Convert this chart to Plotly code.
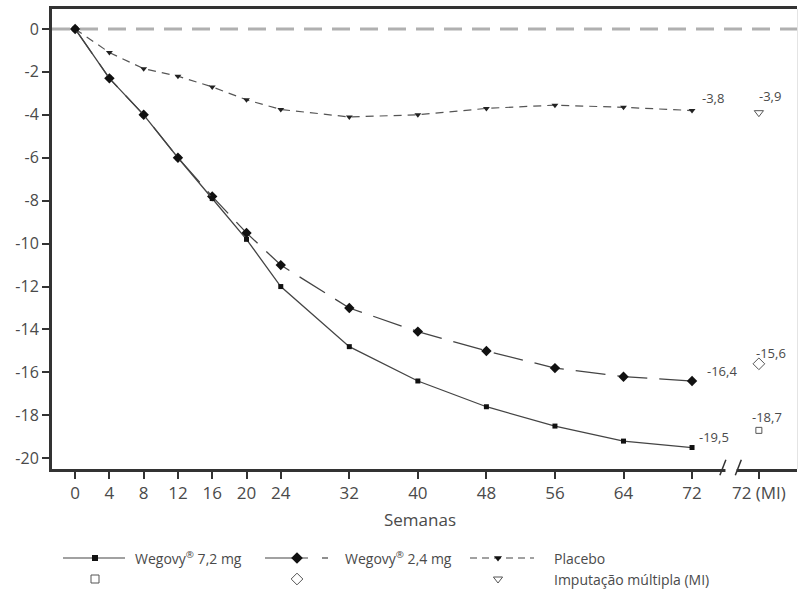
import plotly.graph_objects as go

weeks = [0, 4, 8, 12, 16, 20, 24, 32, 40, 48, 56, 64, 72]
wegovy_72 = [0, -2.3, -4.0, -6.0, -7.9, -9.8, -12.0, -14.8, -16.4, -17.6, -18.5, -19.2, -19.5]
wegovy_24 = [0, -2.3, -4.0, -6.0, -7.8, -9.5, -11.0, -13.0, -14.1, -15.0, -15.8, -16.2, -16.4]
placebo = [0, -1.1, -1.85, -2.2, -2.7, -3.3, -3.75, -4.1, -4.0, -3.7, -3.55, -3.65, -3.8]

mi_week_pos = 79.8  # plotting position of the "72 (MI)" category
mi_72 = -18.7
mi_24 = -15.6
mi_placebo = -3.9

xtick_vals = weeks + [mi_week_pos]
xtick_text = [str(w) for w in weeks] + ["72 (MI)"]
ytick_vals = list(range(0, -21, -2))
ytick_text = [str(v) for v in ytick_vals]

W, H = 798, 591
FONT = "Open Sans"
DARK = "#333333"
TXT = "#4a4a4a"

fig = go.Figure()

# zero reference line
fig.add_shape(type="line", xref="x domain", yref="y", x0=0, x1=1, y0=0, y1=0,
              line=dict(color="#b0b0b0", width=3, dash="18px,10px"), layer="below")

fig.add_trace(go.Scatter(x=weeks, y=placebo, mode="lines+markers",
                         line=dict(color="#555555", width=1.2, dash="8px,6px"),
                         marker=dict(symbol="triangle-down", size=6, color="#222222"),
                         showlegend=False))
fig.add_trace(go.Scatter(x=weeks, y=wegovy_24, mode="lines+markers",
                         line=dict(color="#444444", width=1.3, dash="30px,12px"),
                         marker=dict(symbol="diamond", size=8, color="#111111"),
                         showlegend=False))
fig.add_trace(go.Scatter(x=weeks, y=wegovy_72, mode="lines+markers",
                         line=dict(color="#444444", width=1.3),
                         marker=dict(symbol="square", size=5, color="#111111"),
                         showlegend=False))

# MI points
fig.add_trace(go.Scatter(x=[mi_week_pos], y=[mi_72], mode="markers",
                         marker=dict(symbol="square-open", size=6, color="#555555", line=dict(width=1)),
                         showlegend=False))
fig.add_trace(go.Scatter(x=[mi_week_pos], y=[mi_24], mode="markers",
                         marker=dict(symbol="diamond-open", size=9, color="#555555", line=dict(width=1)),
                         showlegend=False))
fig.add_trace(go.Scatter(x=[mi_week_pos], y=[mi_placebo], mode="markers",
                         marker=dict(symbol="triangle-down-open", size=8, color="#555555", line=dict(width=1)),
                         showlegend=False))

def fmt(v):
    return f"{v:.1f}".replace(".", ",")

# value labels (xshift right, yshift up)
label_font = dict(family=FONT, size=13, color=TXT)
for xv, yv, dx, dy in [(weeks[-1], placebo[-1], 21, 13),
                       (mi_week_pos, mi_placebo, 11, 17),
                       (weeks[-1], wegovy_24[-1], 30, 10),
                       (mi_week_pos, mi_24, 12, 11),
                       (weeks[-1], wegovy_72[-1], 22, 11),
                       (mi_week_pos, mi_72, 8, 13)]:
    fig.add_annotation(x=xv, y=yv, text=fmt(yv), showarrow=False,
                       xshift=dx, yshift=dy, font=label_font)

# axis break marks
fig.add_shape(type="rect", xref="x", yref="paper", x0=75.9, x1=77.2, y0=0.195, y1=0.215,
              fillcolor="white", line=dict(width=0), layer="above")
for xb in [75.6, 77.4]:
    fig.add_shape(type="line", xref="x", yref="paper", x0=xb - 0.35, x1=xb + 0.35,
                  y0=0.196, y1=0.222, line=dict(color=DARK, width=1.5), layer="above")

# right border
fig.add_shape(type="line", xref="paper", yref="paper", x0=1, x1=1, y0=0.2064, y1=0.9848,
              line=dict(color="#c8c8c8", width=1))

# x-axis title
fig.add_annotation(xref="paper", yref="paper", x=420 / W, y=1 - 519 / H, text="Semanas",
                   showarrow=False, font=dict(family=FONT, size=17, color=TXT),
                   xanchor="center", yanchor="middle")

# custom legend on overlay pixel axes
leg_y1, leg_y2 = 558, 579
samples = [
    dict(x0=63, x1=125, xm=95, dash="solid", sym="square", size=6, osym="square-open", osize=8,
         text="Wegovy<sup>®</sup> 7,2 mg", tx=133),
    dict(x0=265, x1=308, xm=297, dash="solid", sym="diamond", size=9, osym="diamond-open", osize=9,
         text="Wegovy<sup>®</sup> 2,4 mg", tx=343),
    dict(x0=470, x1=534, xm=498, dash="7px,5px", sym="triangle-down", size=7,
         osym="triangle-down-open", osize=8, text="Placebo", tx=552),
]
leg_font = dict(family=FONT, size=14, color=TXT)
for s in samples:
    fig.add_trace(go.Scatter(x=[s["x0"], s["x1"]], y=[leg_y1, leg_y1], mode="lines",
                             line=dict(color="#444444", width=1.2, dash=s["dash"]),
                             xaxis="x2", yaxis="y2", showlegend=False, hoverinfo="skip"))
    fig.add_trace(go.Scatter(x=[s["xm"]], y=[leg_y1], mode="markers",
                             marker=dict(symbol=s["sym"], size=s["size"], color="#111111"),
                             xaxis="x2", yaxis="y2", showlegend=False, hoverinfo="skip"))
    fig.add_trace(go.Scatter(x=[s["xm"]], y=[leg_y2], mode="markers",
                             marker=dict(symbol=s["osym"], size=s["osize"], color="#555555",
                                         line=dict(width=1)),
                             xaxis="x2", yaxis="y2", showlegend=False, hoverinfo="skip"))
    fig.add_annotation(xref="x2", yref="y2", x=s["tx"], y=leg_y1, text=s["text"],
                       showarrow=False, xanchor="left", yanchor="middle", font=leg_font)
# short dash after the 2,4 mg sample line
fig.add_trace(go.Scatter(x=[322, 328], y=[leg_y1, leg_y1], mode="lines",
                         line=dict(color="#444444", width=1.2),
                         xaxis="x2", yaxis="y2", showlegend=False, hoverinfo="skip"))
fig.add_annotation(xref="x2", yref="y2", x=552, y=leg_y2, text="Imputação múltipla (MI)",
                   showarrow=False, xanchor="left", yanchor="middle", font=leg_font)

fig.update_layout(
    width=W, height=H,
    margin=dict(l=0, r=0, t=0, b=0),
    paper_bgcolor="white", plot_bgcolor="rgba(0,0,0,0)",
    font=dict(family=FONT, size=13, color=TXT),
    xaxis=dict(domain=[52 / W, 797 / W], range=[-2.7, 84.25],
               tickvals=xtick_vals, ticktext=xtick_text,
               showgrid=False, zeroline=False,
               showline=True, linecolor=DARK, linewidth=3, mirror=True,
               ticks="outside", ticklen=7, tickwidth=1.5, tickcolor=DARK,
               tickfont=dict(family=FONT, size=17, color=TXT)),
    yaxis=dict(domain=[1 - 469 / H, 1 - 9 / H], range=[-20.5, 0.93],
               tickvals=ytick_vals, ticktext=ytick_text,
               showgrid=False, zeroline=False,
               showline=True, linecolor=DARK, linewidth=3,
               ticks="outside", ticklen=7, tickwidth=1.5, tickcolor=DARK,
               tickfont=dict(family=FONT, size=16, color=TXT)),
    xaxis2=dict(domain=[0, 1], range=[0, W], visible=False, anchor="y2"),
    yaxis2=dict(domain=[0, 1], range=[H, 0], visible=False, anchor="x2"),
)

fig.write_html("out.html")
